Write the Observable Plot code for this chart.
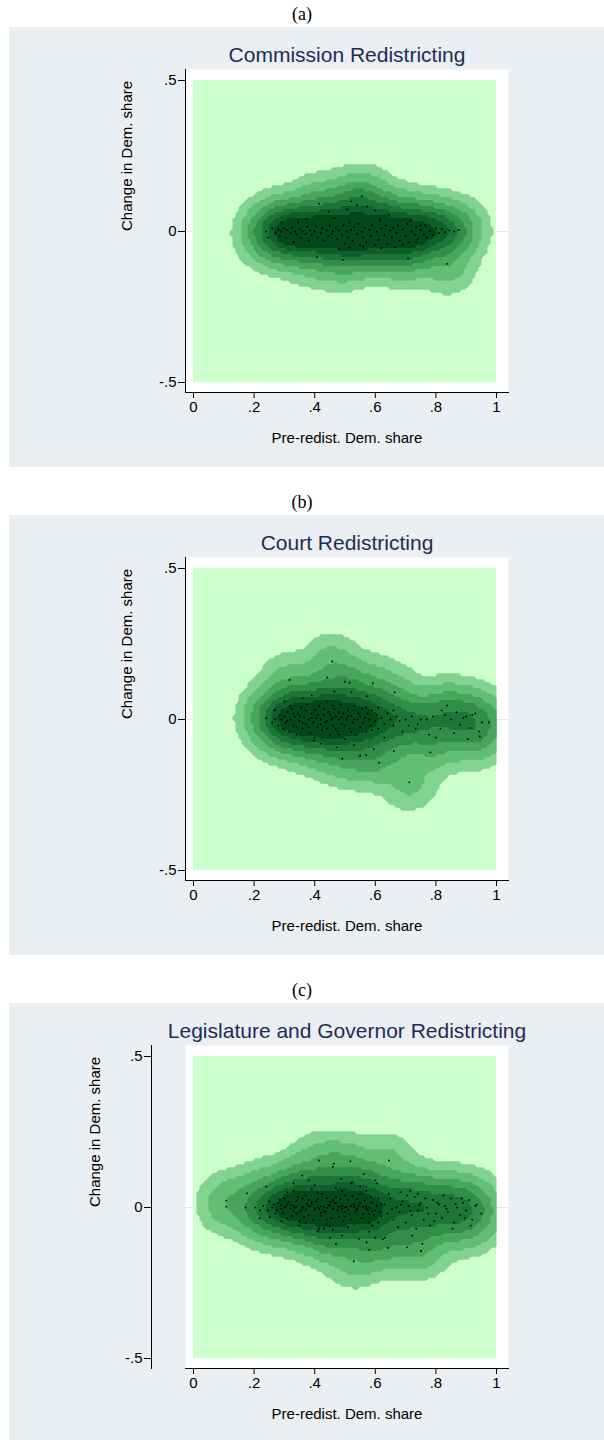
<!DOCTYPE html>
<html><head><meta charset="utf-8">
<script src="https://cdn.jsdelivr.net/npm/d3@7"></script>
<script src="https://cdn.jsdelivr.net/npm/@observablehq/plot@0.6"></script>
<style>
html,body{margin:0;padding:0;background:#fff;width:604px;height:1440px;overflow:hidden;}
.lbl{position:absolute;left:0;width:604px;text-align:center;font-family:"Liberation Serif","Times New Roman",serif;font-size:18px;line-height:20px;color:#000;}
.pane{position:absolute;left:9px;}
</style></head><body>
<script>
const panelLetters = ["(a)", "(b)", "(c)"];
const panelTitles = ["Commission Redistricting", "Court Redistricting", "Legislature and Governor Redistricting"];
const xLabel = "Pre-redist. Dem. share";
const yLabel = "Change in Dem. share";
const xDomain = [0, 1];
const yDomain = [-0.5, 0.5];
const xTicks = [0, 0.2, 0.4, 0.6, 0.8, 1];
const xTickLabels = ["0", ".2", ".4", ".6", ".8", "1"];
const yTicks = [-0.5, 0, 0.5];
const yTickLabels = ["-.5", "0", ".5"];

// (a) Commission redistricting: [pre-redist share, change]
const commissionPts = [
[0.24,0.00],[0.245,-0.02],[0.26,0.01],[0.27,-0.005],[0.28,0.005],[0.285,-0.015],[0.29,0.00],[0.30,0.01],[0.305,-0.02],[0.31,0.005],
[0.32,-0.005],[0.325,0.012],[0.33,-0.035],[0.335,0.00],[0.34,-0.01],[0.35,0.008],[0.355,-0.02],[0.36,0.00],[0.37,-0.008],[0.375,0.015],
[0.38,-0.03],[0.385,0.004],[0.39,-0.012],[0.40,0.00],[0.405,0.018],[0.41,-0.02],[0.42,-0.005],[0.425,0.01],[0.43,-0.03],[0.44,0.003],
[0.445,-0.015],[0.45,0.02],[0.455,-0.008],[0.46,0.00],[0.47,0.012],[0.475,-0.025],[0.48,0.004],[0.49,-0.012],[0.495,0.02],[0.50,-0.04],
[0.505,0.00],[0.51,-0.02],[0.515,0.03],[0.52,0.005],[0.525,-0.03],[0.53,0.015],[0.54,-0.008],[0.545,0.025],[0.55,-0.045],[0.555,0.00],
[0.56,-0.02],[0.565,0.012],[0.57,-0.035],[0.58,0.005],[0.585,-0.015],[0.59,0.02],[0.60,-0.045],[0.605,0.00],[0.61,-0.028],[0.615,0.035],
[0.62,0.01],[0.63,-0.012],[0.635,0.02],[0.64,-0.04],[0.65,0.004],[0.655,-0.02],[0.66,0.012],[0.67,-0.005],[0.675,0.02],[0.68,-0.03],
[0.69,0.006],[0.70,-0.015],[0.705,0.025],[0.71,-0.035],[0.72,0.00],[0.73,-0.01],[0.735,0.015],[0.74,-0.025],[0.75,0.005],[0.76,-0.01],
[0.765,0.02],[0.77,-0.02],[0.78,0.002],[0.79,-0.012],[0.80,0.01],[0.81,-0.005],[0.82,0.008],[0.83,-0.002],[0.845,0.004],[0.86,0.00],[0.875,0.005],
[0.414,0.092],[0.446,0.066],[0.556,0.117],[0.54,0.088],[0.573,0.083],[0.507,0.072],[0.373,0.042],[0.465,0.044],[0.617,0.042],[0.645,0.055],
[0.716,0.036],[0.749,0.02],[0.408,-0.085],[0.493,-0.094],[0.708,-0.089],[0.837,-0.107],[0.331,-0.035],[0.48,-0.058],[0.515,-0.052],[0.56,-0.05],
[0.62,-0.055],[0.665,-0.052],[0.69,-0.045],[0.735,-0.035],[0.29,0.03],[0.345,0.03],[0.60,0.07],[0.52,0.10]
];

// (b) Court redistricting
const courtPts = [
[0.24,0.005],[0.26,-0.01],[0.265,0.03],[0.27,0.00],[0.28,-0.02],[0.285,0.015],[0.29,0.00],[0.295,-0.03],[0.30,0.01],[0.30,0.06],
[0.305,-0.01],[0.31,0.025],[0.315,-0.04],[0.32,0.00],[0.325,0.035],[0.33,-0.02],[0.335,0.01],[0.34,-0.05],[0.345,0.02],[0.35,-0.005],
[0.355,0.04],[0.36,-0.03],[0.365,0.008],[0.37,-0.015],[0.375,0.05],[0.38,0.00],[0.385,-0.045],[0.39,0.02],[0.395,-0.01],[0.40,0.03],
[0.40,-0.06],[0.405,0.005],[0.41,-0.025],[0.415,0.045],[0.42,0.00],[0.425,-0.035],[0.43,0.015],[0.435,-0.01],[0.44,0.06],[0.445,0.025],
[0.45,-0.05],[0.455,0.00],[0.46,-0.02],[0.465,0.035],[0.47,0.01],[0.475,-0.04],[0.48,0.00],[0.485,0.05],[0.49,-0.015],[0.495,0.02],
[0.50,-0.065],[0.505,0.00],[0.51,0.03],[0.515,-0.03],[0.52,0.012],[0.525,-0.01],[0.53,0.045],[0.535,-0.05],[0.54,0.00],[0.545,0.02],
[0.55,-0.025],[0.555,0.035],[0.56,-0.01],[0.565,0.005],[0.57,-0.04],[0.575,0.02],[0.58,0.00],[0.585,-0.02],[0.59,0.03],[0.60,-0.005],
[0.605,0.015],[0.61,-0.03],[0.62,0.005],[0.63,-0.015],[0.64,0.02],[0.65,0.00],[0.66,-0.02],[0.67,0.01],[0.68,-0.005],
[0.31,-0.005],[0.33,0.02],[0.35,0.012],[0.36,-0.012],[0.37,0.03],[0.38,-0.025],[0.39,0.005],[0.41,0.015],[0.42,-0.015],[0.43,0.035],
[0.44,-0.005],[0.45,0.015],[0.46,0.005],[0.47,-0.03],[0.48,0.025],[0.49,0.008],[0.50,-0.02],[0.51,0.01],[0.52,-0.04],[0.53,0.00],
[0.34,-0.025],[0.32,0.045],[0.30,-0.035],[0.44,-0.03],[0.46,0.045],[0.48,-0.05],[0.55,0.01],[0.57,0.04],[0.59,-0.035],[0.61,0.04],
[0.70,0.00],[0.71,-0.02],[0.72,0.01],[0.733,-0.03],[0.75,0.00],[0.77,0.00],[0.777,-0.05],[0.79,0.01],[0.815,-0.03],[0.83,0.015],
[0.837,0.046],[0.85,0.00],[0.868,0.024],[0.88,-0.017],[0.89,0.005],[0.90,0.01],[0.914,-0.028],[0.92,0.015],[0.943,-0.04],[0.945,-0.056],
[0.952,-0.01],[0.975,-0.01],[0.66,0.03],[0.69,-0.04],[0.74,-0.015],[0.80,-0.06],[0.86,-0.045],[0.905,-0.065],[0.82,0.03],[0.93,0.02],
[0.458,0.192],[0.317,0.131],[0.441,0.139],[0.50,0.125],[0.515,0.122],[0.592,0.12],[0.664,0.09],[0.465,0.093],[0.573,0.077],[0.27,0.033],
[0.712,-0.208],[0.661,-0.104],[0.782,-0.109],[0.612,-0.143],[0.491,-0.13],[0.55,-0.12],[0.57,-0.118],[0.472,-0.092],[0.595,-0.098],[0.397,-0.07],
[0.39,0.08],[0.52,0.09],[0.42,-0.08],[0.53,-0.085],[0.63,-0.06],[0.36,0.07]
];

// (c) Legislature and governor redistricting
const legislaturePts = [
[0.26,0.00],[0.27,-0.02],[0.28,0.015],[0.29,-0.005],[0.30,0.03],[0.31,-0.035],[0.32,0.008],[0.33,-0.012],[0.34,0.022],[0.35,-0.045],
[0.36,0.004],[0.37,0.04],[0.38,-0.025],[0.39,0.012],[0.40,-0.008],[0.41,0.028],[0.42,-0.018],[0.43,0.002],[0.44,-0.055],[0.45,0.018],
[0.46,-0.003],[0.47,0.035],[0.48,-0.03],[0.49,0.006],[0.50,-0.015],[0.51,0.025],[0.52,-0.04],[0.53,0.01],[0.54,-0.006],[0.55,0.045],
[0.56,-0.022],[0.57,0.003],[0.58,-0.05],[0.59,0.016],[0.60,-0.01],[0.61,0.03],[0.62,-0.028],
[0.265,0.01],[0.275,-0.008],[0.285,0.025],[0.295,-0.018],[0.305,0.004],[0.315,0.018],[0.325,-0.028],[0.335,0.00],[0.345,0.035],[0.355,-0.01],
[0.365,-0.03],[0.375,0.012],[0.385,0.003],[0.395,-0.04],[0.405,0.02],[0.415,-0.005],[0.425,0.045],[0.435,-0.015],[0.445,0.008],[0.455,-0.035],
[0.465,0.015],[0.475,-0.01],[0.485,0.028],[0.495,-0.045],[0.505,0.002],[0.515,-0.02],[0.525,0.038],[0.535,-0.012],[0.545,0.006],[0.555,-0.035],
[0.565,0.022],[0.575,-0.008],[0.585,0.035],[0.595,-0.025],[0.605,0.005],[0.615,-0.015],
[0.30,0.00],[0.32,-0.004],[0.34,0.003],[0.36,0.00],[0.38,0.005],[0.40,-0.002],[0.42,0.004],[0.44,0.00],[0.46,-0.005],[0.48,0.003],
[0.50,0.00],[0.52,0.005],[0.54,-0.003],[0.56,0.002],[0.58,0.00],[0.33,0.006],[0.37,-0.006],[0.41,0.00],[0.45,0.006],[0.49,-0.004],
[0.53,0.002],[0.57,-0.005],[0.31,0.012],[0.35,-0.015],[0.39,0.018],[0.43,-0.012],[0.47,0.014],[0.51,-0.008],[0.55,0.016],[0.59,-0.012],
[0.29,0.008],[0.34,-0.02],[0.38,0.025],[0.42,-0.028],[0.46,0.024],[0.50,-0.03],[0.54,0.028],[0.58,-0.02],[0.62,0.012],[0.44,0.03],
[0.31,0.05],[0.35,-0.06],[0.39,0.06],[0.43,-0.07],[0.47,0.065],[0.51,-0.065],[0.55,0.07],[0.59,-0.06],[0.29,-0.045],[0.33,0.055],
[0.37,-0.05],[0.41,0.05],[0.45,-0.06],[0.49,0.055],[0.53,-0.055],[0.57,0.055],[0.61,-0.05],[0.40,0.075],[0.46,-0.075],[0.52,0.08],
[0.58,-0.08],[0.36,0.03],[0.44,-0.04],[0.50,0.04],
[0.63,0.01],[0.64,-0.02],[0.65,0.03],[0.66,-0.04],[0.67,0.00],[0.68,-0.015],[0.69,0.02],[0.70,-0.05],[0.71,0.005],[0.72,-0.025],
[0.73,0.035],[0.74,-0.01],[0.75,0.015],[0.76,-0.04],[0.77,0.00],[0.78,-0.06],[0.79,0.025],[0.80,-0.02],[0.81,0.01],[0.82,-0.035],
[0.83,0.005],[0.84,-0.015],[0.85,0.03],[0.86,-0.05],[0.87,0.00],[0.88,-0.025],[0.89,0.015],[0.90,-0.01],[0.91,0.025],[0.92,-0.04],
[0.93,0.005],[0.95,-0.02],[0.645,0.045],[0.675,-0.065],[0.705,0.04],[0.735,-0.07],[0.765,0.03],[0.795,-0.045],[0.825,0.04],[0.855,-0.07],
[0.885,0.03],[0.915,-0.06],[0.655,-0.005],[0.685,0.01],[0.715,-0.012],[0.745,0.008],[0.775,-0.02],[0.805,0.015],[0.835,-0.005],[0.865,0.012],
[0.895,-0.035],[0.935,0.01],
[0.108,0.023],[0.108,0.003],[0.172,0.00],[0.177,0.047],[0.204,0.00],[0.218,-0.035],[0.241,0.069],[0.252,-0.032],[0.23,0.005],[0.25,0.02],
[0.22,-0.01],[0.245,-0.01],
[0.414,0.156],[0.463,0.145],[0.46,0.135],[0.518,0.153],[0.645,0.156],[0.359,0.106],[0.488,0.095],[0.523,0.084],[0.562,0.111],[0.60,0.09],
[0.605,0.08],[0.683,0.051],[0.715,0.055],[0.74,0.045],[0.529,-0.178],[0.546,-0.104],[0.571,-0.115],[0.60,-0.10],[0.625,-0.105],[0.632,-0.10],
[0.641,-0.134],[0.705,-0.132],[0.722,-0.093],[0.755,-0.12],[0.751,-0.144],[0.49,-0.093],[0.41,-0.078],[0.415,-0.07],[0.38,0.09],[0.33,0.08],
[0.47,-0.12],[0.58,-0.14],[0.45,-0.10]
];

const panelPoints = [commissionPts, courtPts, legislaturePts];
const bandColors = ["#82d390", "#62be74", "#47a65c", "#308e48", "#1d7638", "#0e5f29", "#03461a"];
const levelFractions = [0.004, 0.022, 0.07, 0.15, 0.27, 0.42, 0.6];
const FONT = '"Liberation Sans", Arial, Helvetica, sans-serif';

function makeDensity(pts, h) {
  const inv = 1 / (2 * h * h), cut = 30 * h * h;
  const f = (x, y) => {
    let s = 0;
    for (const [px, py] of pts) {
      const dx = x - px, dy = y - py, d2 = dx * dx + dy * dy;
      if (d2 < cut) s += Math.exp(-d2 * inv);
    }
    return s;
  };
  let m = 0;
  for (const [px, py] of pts) m = Math.max(m, f(px, py));
  return (x, y) => f(x, y) / m;
}

const xFmt = new Map(xTicks.map((t, i) => [t, xTickLabels[i]]));
const yFmt = new Map(yTicks.map((t, i) => [t, yTickLabels[i]]));
const yAxisShift = [0, 0, -34];
const yLabelDx = [-58, -58, -90];

panelPoints.forEach((pts, i) => {
  const top = 27 + 488 * i;
  const lbl = document.createElement("div");
  lbl.className = "lbl";
  lbl.style.top = (top - 23) + "px";
  lbl.textContent = panelLetters[i];
  document.body.appendChild(lbl);

  const dens = makeDensity(pts, 0.045);
  const svg = Plot.plot({
    width: 595, height: 440,
    marginLeft: 176, marginRight: 96, marginTop: 42, marginBottom: 75,
    style: {background: "#e9eff2", fontFamily: FONT, color: "#000", overflow: "visible"},
    x: {domain: xDomain, insetLeft: 8, insetRight: 12},
    y: {domain: yDomain, insetTop: 11, insetBottom: 10},
    color: {type: "threshold", domain: levelFractions.slice(1), range: bandColors},
    marks: [
      Plot.frame({fill: "#fff", stroke: "none"}),
      Plot.ruleY([0], {stroke: "#e1e9ed", strokeWidth: 1}),
      Plot.rect([{x1: xDomain[0], x2: xDomain[1], y1: yDomain[0], y2: yDomain[1]}], {x1: "x1", x2: "x2", y1: "y1", y2: "y2", fill: "#ccffcc"}),
      Plot.contour(null, {x1: xDomain[0], x2: xDomain[1], y1: yDomain[0], y2: yDomain[1], fill: dens, thresholds: levelFractions, pixelSize: 3, smooth: false, stroke: "none"}),
      Plot.dot(pts, {x: d => d[0], y: d => d[1], r: 0.9, fill: "#000", stroke: "none"}),
      Plot.frame({anchor: "bottom", stroke: "#000"}),
      Plot.frame({anchor: "left", stroke: "#000", dx: yAxisShift[i]}),
      Plot.axisX(xTicks, {tickFormat: d => xFmt.get(d), tickSize: 6, tickPadding: 3, fontSize: 15, label: null}),
      Plot.axisY(yTicks, {tickFormat: d => yFmt.get(d), tickSize: 7, tickPadding: 2, fontSize: 15, label: null, dx: yAxisShift[i]}),
      Plot.text([panelTitles[i]], {frameAnchor: "top", dy: -14, text: d => d, fontSize: 21, fill: "#1e2d56", lineAnchor: "middle"}),
      Plot.text([xLabel], {frameAnchor: "bottom", dy: 46, text: d => d, fontSize: 15, fill: "#000", lineAnchor: "middle"}),
      Plot.text([yLabel], {frameAnchor: "left", dx: yLabelDx[i], rotate: -90, text: d => d, fontSize: 15, fill: "#000", lineAnchor: "middle"})
    ]
  });
  const wrap = document.createElement("div");
  wrap.className = "pane";
  wrap.style.top = top + "px";
  wrap.appendChild(svg);
  document.body.appendChild(wrap);
});
</script>
</body></html>
